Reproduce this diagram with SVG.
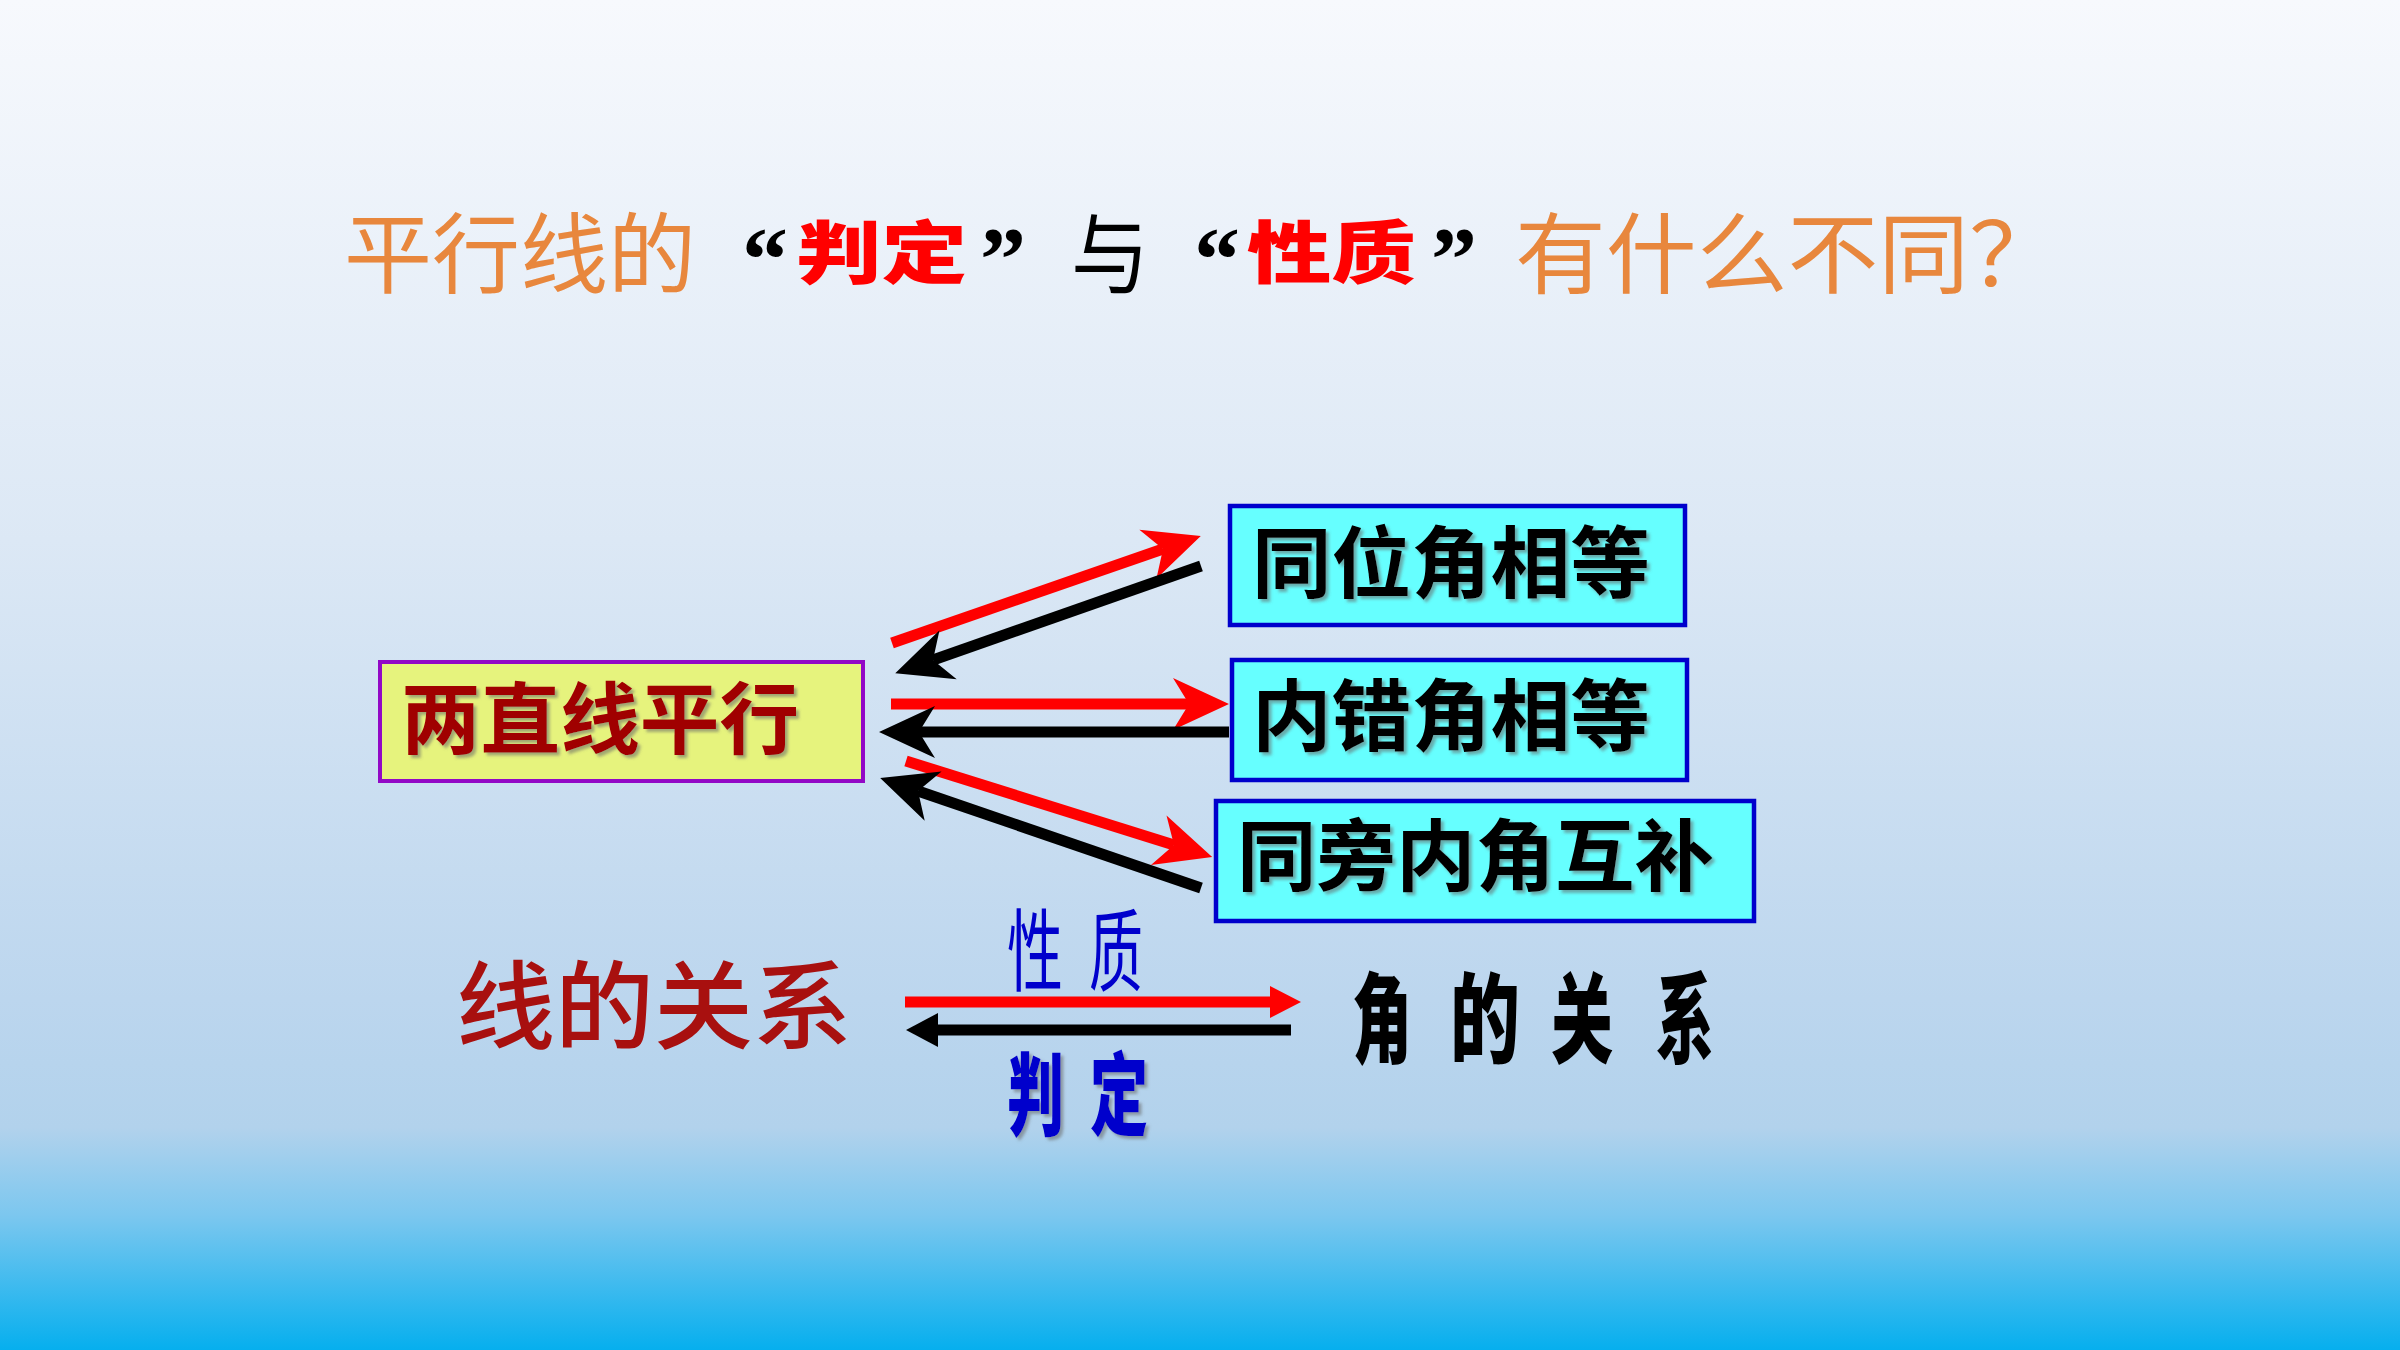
<svg xmlns="http://www.w3.org/2000/svg" width="2400" height="1350" viewBox="0 0 2400 1350">
<defs>
<linearGradient id="bg" x1="0" y1="0" x2="0" y2="1">
<stop offset="0" stop-color="#F7F9FD"/>
<stop offset="0.4" stop-color="#DCE8F5"/>
<stop offset="0.74" stop-color="#BCD6EE"/>
<stop offset="0.835" stop-color="#B2D2EC"/>
<stop offset="0.9" stop-color="#7CC7EF"/>
<stop offset="1" stop-color="#06AFEE"/>
</linearGradient>
<filter id="sh" x="-10%" y="-10%" width="130%" height="130%">
<feDropShadow dx="3" dy="3" stdDeviation="1.5" flood-color="#666" flood-opacity="0.55"/>
</filter>
<marker id="hR" markerUnits="userSpaceOnUse" markerWidth="80" markerHeight="80" viewBox="-20 -30 80 60" refX="0" refY="0" orient="auto" overflow="visible">
<path d="M40,0 L-16,-26 L0,0 L-16,26 Z" fill="#FF0000"/>
</marker>
<marker id="hK" markerUnits="userSpaceOnUse" markerWidth="80" markerHeight="80" viewBox="-20 -30 80 60" refX="0" refY="0" orient="auto" overflow="visible">
<path d="M40,0 L-16,-26 L0,0 L-16,26 Z" fill="#000000"/>
</marker>
<marker id="tR" markerUnits="userSpaceOnUse" markerWidth="40" markerHeight="40" viewBox="0 -20 40 40" refX="0" refY="0" orient="auto" overflow="visible">
<path d="M31,0 L0,-16 L0,16 Z" fill="#FF0000"/>
</marker>
<marker id="tK" markerUnits="userSpaceOnUse" markerWidth="40" markerHeight="40" viewBox="0 -20 40 40" refX="0" refY="0" orient="auto" overflow="visible">
<path d="M32,0 L0,-17 L0,17 Z" fill="#000000"/>
</marker>
</defs>
<style>
.cjk{font-family:"Noto Sans CJK SC","Noto Sans CJK JP",sans-serif;}
.q{font-family:"Liberation Serif",serif;font-weight:bold;font-size:92px;fill:#000;}
.org{fill:#E8873D;font-size:88px;font-weight:400;}
.redb{fill:#FF0000;font-size:68px;font-weight:900;}
.box{font-size:78px;font-weight:700;}
.r{stroke:#FF0000;stroke-width:11;fill:none;}
.k{stroke:#000000;stroke-width:11;fill:none;}
</style>
<rect x="0" y="0" width="2400" height="1350" fill="url(#bg)"/>

<g id="title" class="cjk">
<text x="344" y="286" class="cjk org" textLength="352" lengthAdjust="spacingAndGlyphs">平行线的</text>
<text x="742" y="290" class="q">“</text>
<text x="796" y="278" class="cjk redb" textLength="171" lengthAdjust="spacingAndGlyphs">判定</text>
<text x="980" y="290" class="q">”</text>
<text x="1071" y="286" class="cjk" font-size="88" fill="#000" textLength="78" lengthAdjust="spacingAndGlyphs">与</text>
<text x="1194" y="290" class="q">“</text>
<text x="1247" y="278" class="cjk redb" textLength="169" lengthAdjust="spacingAndGlyphs">性质</text>
<text x="1431" y="290" class="q">”</text>
<text x="1515" y="286" class="cjk org" textLength="545" lengthAdjust="spacingAndGlyphs">有什么不同？</text>
</g>

<g id="node-parallel">
<rect x="380" y="662" width="483" height="119" fill="#E6F37D" stroke="#9208C6" stroke-width="4"/>
<text x="401" y="748" class="cjk box" fill="#A00000" filter="url(#sh)" textLength="398" lengthAdjust="spacingAndGlyphs">两直线平行</text>
</g>
<g id="node-corresponding">
<rect x="1230" y="506" width="455" height="119" fill="#66FFFF" stroke="#0000CC" stroke-width="4.5"/>
<text x="1252" y="592" class="cjk box" fill="#000" filter="url(#sh)" textLength="398" lengthAdjust="spacingAndGlyphs">同位角相等</text>
</g>
<g id="node-alternate">
<rect x="1232" y="660" width="455" height="120" fill="#66FFFF" stroke="#0000CC" stroke-width="4.5"/>
<text x="1252" y="745" class="cjk box" fill="#000" filter="url(#sh)" textLength="398" lengthAdjust="spacingAndGlyphs">内错角相等</text>
</g>
<g id="node-interior">
<rect x="1216" y="801" width="538" height="120" fill="#66FFFF" stroke="#0000CC" stroke-width="4.5"/>
<text x="1237" y="885" class="cjk box" fill="#000" filter="url(#sh)" textLength="477" lengthAdjust="spacingAndGlyphs">同旁内角互补</text>
</g>

<g id="node-line-relation">
<text x="456" y="1041" class="cjk" font-size="96" font-weight="500" fill="#A8100F" textLength="396" lengthAdjust="spacingAndGlyphs">线的关系</text>
</g>
<g id="node-angle-relation" class="cjk" font-size="98" font-weight="900" fill="#000">
<text x="1352" y="1055" textLength="60" lengthAdjust="spacingAndGlyphs">角</text>
<text x="1450" y="1055" textLength="70" lengthAdjust="spacingAndGlyphs">的</text>
<text x="1551" y="1055" textLength="62" lengthAdjust="spacingAndGlyphs">关</text>
<text x="1656" y="1055" textLength="58" lengthAdjust="spacingAndGlyphs">系</text>
</g>

<g id="connectors">
<line x1="892" y1="643" x2="1163" y2="549" class="r" marker-end="url(#hR)"/>
<line x1="1201" y1="566" x2="933" y2="660" class="k" marker-end="url(#hK)"/>
<line x1="891" y1="704" x2="1189" y2="704" class="r" stroke-width="12" marker-end="url(#hR)"/>
<line x1="1229" y1="732" x2="919" y2="732" class="k" stroke-width="12" marker-end="url(#hK)"/>
<line x1="906" y1="761" x2="1174" y2="845" class="r" marker-end="url(#hR)"/>
<line x1="1201" y1="888" x2="918" y2="791" class="k" marker-end="url(#hK)"/>
<line x1="905" y1="1002" x2="1270" y2="1002" class="r" marker-end="url(#tR)"/>
<line x1="1291" y1="1030" x2="938" y2="1030" class="k" stroke-width="12" marker-end="url(#tK)"/>
<g class="cjk" fill="#0000CC">
<text x="1007" y="984" font-size="90" textLength="56" lengthAdjust="spacingAndGlyphs">性</text>
<text x="1089" y="984" font-size="90" textLength="54" lengthAdjust="spacingAndGlyphs">质</text>
<text x="1007" y="1128" font-size="90" font-weight="900" filter="url(#sh)" textLength="57" lengthAdjust="spacingAndGlyphs">判</text>
<text x="1090" y="1128" font-size="90" font-weight="900" filter="url(#sh)" textLength="58" lengthAdjust="spacingAndGlyphs">定</text>
</g>
</g>
</svg>
